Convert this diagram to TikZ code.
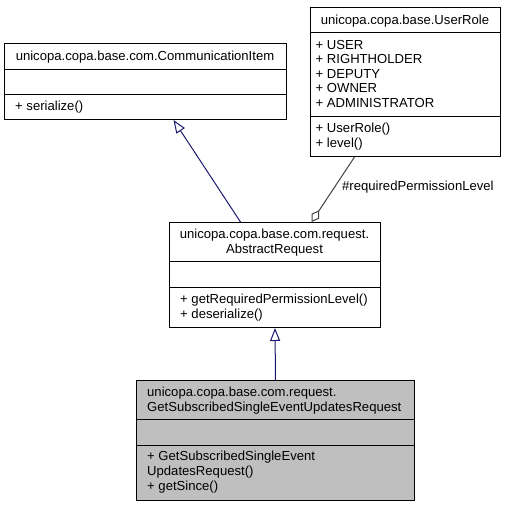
\documentclass[tikz,border=0pt]{standalone}
\usepackage{fontspec}
\setmainfont{Liberation Sans}
\usetikzlibrary{arrows.meta}
\definecolor{genblue}{HTML}{191970}
\definecolor{agggray}{HTML}{404040}
\definecolor{curgray}{HTML}{BFBFBF}
\tikzset{
	classbox/.style={draw=black, line width=1pt, fill=white, inner sep=0pt, anchor=north west},
	sepline/.style={draw=black, line width=1pt},
	txt/.style={inner sep=0pt, font=\fontsize{13.1}{15}\selectfont},
	genline/.style={draw=genblue, line width=1pt, -{Triangle[open, length=13pt, width=10pt]}},
	aggline/.style={draw=agggray, line width=1pt, {Diamond[open, length=14pt, width=9pt]}-}
}
\begin{document}
\begin{tikzpicture}[x=1pt, y=-1pt]
		\useasboundingbox ( 0, 0 ) rectangle ( 505, 507 );

		% класс CommunicationItem
		\node [classbox, minimum width=282pt, minimum height=76pt] (comitem) at ( 4, 43 ) {};
		\draw [sepline] ([yshift=-26pt]comitem.north west) -- ([yshift=-26pt]comitem.north east);
		\draw [sepline] ([yshift=-51pt]comitem.north west) -- ([yshift=-51pt]comitem.north east);
		\node [txt, anchor=base] (comitemname) at ( 145, 60 ) {unicopa.copa.base.com.CommunicationItem};
		\node [txt, anchor=base west] (comitemop) at ( 15, 110 ) {+ serialize()};

		% класс UserRole
		\node [classbox, minimum width=190pt, minimum height=149pt] (userrole) at ( 310, 7 ) {};
		\draw [sepline] ([yshift=-25pt]userrole.north west) -- ([yshift=-25pt]userrole.north east);
		\draw [sepline] ([yshift=-109pt]userrole.north west) -- ([yshift=-109pt]userrole.north east);
		\node [txt, anchor=base] (userrolename) at ( 405, 24 ) {unicopa.copa.base.UserRole};
		\node [txt, anchor=base west] (userroleat1) at ( 315.5, 49 ) {+ USER};
		\node [txt, anchor=base west] (userroleat2) at ( 315.5, 63.5 ) {+ RIGHTHOLDER};
		\node [txt, anchor=base west] (userroleat3) at ( 315.5, 78 ) {+ DEPUTY};
		\node [txt, anchor=base west] (userroleat4) at ( 315.5, 92.5 ) {+ OWNER};
		\node [txt, anchor=base west] (userroleat5) at ( 315.5, 107 ) {+ ADMINISTRATOR};
		\node [txt, anchor=base west] (userroleop1) at ( 315.5, 132 ) {+ UserRole()};
		\node [txt, anchor=base west] (userroleop2) at ( 315.5, 147 ) {+ level()};

		% класс AbstractRequest
		\node [classbox, minimum width=211pt, minimum height=105pt] (absreq) at ( 169, 222 ) {};
		\draw [sepline] ([yshift=-39pt]absreq.north west) -- ([yshift=-39pt]absreq.north east);
		\draw [sepline] ([yshift=-65pt]absreq.north west) -- ([yshift=-65pt]absreq.north east);
		\node [txt, anchor=base] (absreqname1) at ( 274.5, 238 ) {unicopa.copa.base.com.request.};
		\node [txt, anchor=base] (absreqname2) at ( 274.5, 253 ) {AbstractRequest};
		\node [txt, anchor=base west] (absreqop1) at ( 180, 303 ) {+ getRequiredPermissionLevel()};
		\node [txt, anchor=base west] (absreqop2) at ( 180, 318 ) {+ deserialize()};

		% класс GetSubscribedSingleEventUpdatesRequest
		\node [classbox, fill=curgray, minimum width=278pt, minimum height=120pt] (getsub) at ( 136, 380 ) {};
		\draw [sepline] ([yshift=-39pt]getsub.north west) -- ([yshift=-39pt]getsub.north east);
		\draw [sepline] ([yshift=-65pt]getsub.north west) -- ([yshift=-65pt]getsub.north east);
		\node [txt, anchor=base west] (getsubname1) at ( 147, 396 ) {unicopa.copa.base.com.request.};
		\node [txt, anchor=base west] (getsubname2) at ( 147, 411 ) {GetSubscribedSingleEventUpdatesRequest};
		\node [txt, anchor=base west] (getsubop1) at ( 147, 460 ) {+ GetSubscribedSingleEvent};
		\node [txt, anchor=base west] (getsubop2) at ( 147, 475 ) {UpdatesRequest()};
		\node [txt, anchor=base west] (getsubop3) at ( 147, 490 ) {+ getSince()};

		% связи
		\draw [genline] ([xshift=-34.5pt]absreq.north) -- ([xshift=28pt]comitem.south);
		\draw [genline] (getsub.north) -- (absreq.south);
		\draw [aggline] ([xshift=36.5pt]absreq.north) -- ([xshift=-51pt]userrole.south);
		\node [txt, anchor=base west] (permlevel) at ( 342, 190.5 ) {\#requiredPermissionLevel};
\end{tikzpicture}
\end{document}
